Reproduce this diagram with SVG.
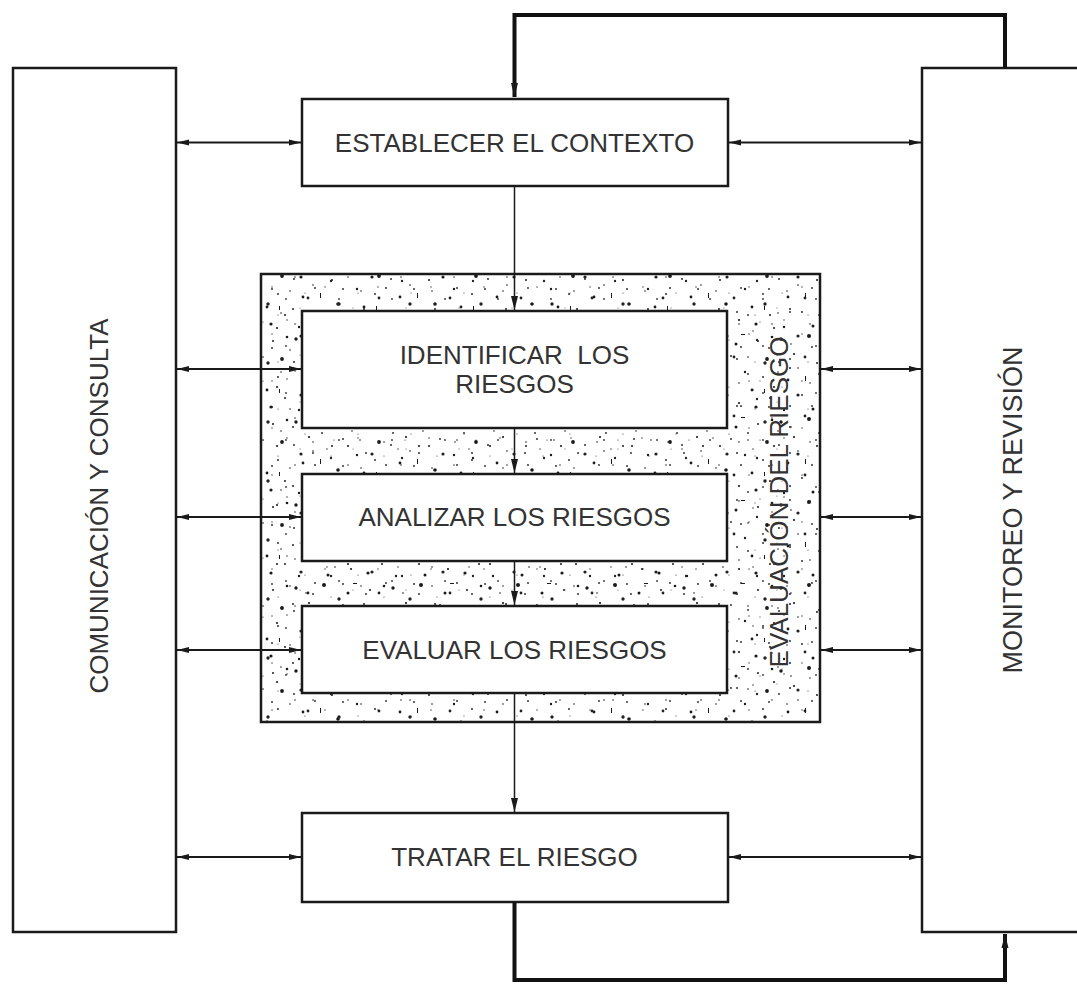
<svg xmlns="http://www.w3.org/2000/svg" width="1077" height="985" viewBox="0 0 1077 985">
<style>
.frame{fill:#fff;stroke:#1a1a1a;stroke-width:2.5}
.lbl{font-family:"Liberation Sans",Arial,sans-serif;font-size:26px;fill:#333;text-anchor:middle}
.conn{fill:none;stroke:#1a1a1a;stroke-width:2}
.thin{fill:none;stroke:#1a1a1a;stroke-width:1.5}
.thick{fill:none;stroke:#111;stroke-width:4}
</style>
<defs>
<marker id="ah" viewBox="0 0 12 7" refX="12" refY="3.5" markerWidth="12" markerHeight="7" markerUnits="userSpaceOnUse" orient="auto-start-reverse">
<path d="M0,0.5 L12,3.5 L0,6.5 z" fill="#1a1a1a"/>
</marker>
<marker id="av" viewBox="0 0 14 8" refX="14" refY="4" markerWidth="14" markerHeight="8" markerUnits="userSpaceOnUse" orient="auto">
<path d="M0,0.5 L14,4 L0,7.5 z" fill="#1a1a1a"/>
</marker>
<pattern id="sp1" width="97" height="83" patternUnits="userSpaceOnUse">
<g fill="#1a1a1a">
<circle cx="5" cy="7" r="1.7"/><circle cx="18" cy="22" r="1.1"/><circle cx="33" cy="4" r="2.0"/><circle cx="41" cy="31" r="1.0"/><circle cx="57" cy="12" r="1.5"/><circle cx="66" cy="40" r="1.2"/><circle cx="79" cy="9" r="1.0"/><circle cx="88" cy="27" r="1.9"/><circle cx="12" cy="48" r="1.4"/><circle cx="26" cy="63" r="0.9"/><circle cx="47" cy="55" r="1.8"/><circle cx="60" cy="71" r="1.1"/><circle cx="73" cy="58" r="1.4"/><circle cx="91" cy="66" r="1.0"/><circle cx="8" cy="78" r="1.2"/><circle cx="37" cy="77" r="1.5"/><circle cx="84" cy="45" r="0.9"/><circle cx="52" cy="24" r="0.9"/><circle cx="22" cy="36" r="0.8"/><circle cx="69" cy="25" r="0.8"/><circle cx="3" cy="30" r="0.9"/><circle cx="44" cy="69" r="0.8"/><circle cx="93" cy="5" r="1.3"/><circle cx="15" cy="12" r="0.8"/><circle cx="77" cy="75" r="1.6"/>
<rect x="29" y="44" width="1" height="5"/><rect x="62" y="2" width="4" height="1"/><rect x="85" y="57" width="1" height="4"/>
</g>
</pattern>
<pattern id="sp2" width="71" height="59" patternUnits="userSpaceOnUse">
<g fill="#222">
<circle cx="9" cy="14" r="1.0"/><circle cx="24" cy="3" r="1.4"/><circle cx="38" cy="20" r="0.9"/><circle cx="55" cy="9" r="1.7"/><circle cx="64" cy="33" r="1.1"/><circle cx="17" cy="41" r="1.6"/><circle cx="31" cy="52" r="0.9"/><circle cx="47" cy="45" r="1.2"/><circle cx="6" cy="55" r="0.8"/><circle cx="59" cy="53" r="0.9"/><circle cx="29" cy="29" r="0.8"/><circle cx="68" cy="18" r="0.8"/><circle cx="43" cy="36" r="0.7"/><circle cx="3" cy="25" r="0.7"/><circle cx="50" cy="27" r="0.6"/>
</g>
</pattern>
<pattern id="sp3" width="53" height="47" patternUnits="userSpaceOnUse">
<g fill="#333">
<circle cx="7" cy="5" r="0.7"/><circle cx="21" cy="17" r="0.9"/><circle cx="40" cy="11" r="0.6"/><circle cx="48" cy="30" r="1.0"/><circle cx="13" cy="33" r="0.6"/><circle cx="30" cy="42" r="0.8"/><circle cx="35" cy="26" r="0.5"/>
</g>
</pattern>
</defs>
<rect width="1077" height="985" fill="#fff"/>

<g id="evaluacion-riesgo">
<rect x="261" y="274" width="559" height="448" fill="#fff"/>
<rect x="261" y="274" width="559" height="448" fill="url(#sp1)"/>
<rect x="261" y="274" width="559" height="448" fill="url(#sp2)"/>
<rect x="261" y="274" width="559" height="448" fill="url(#sp3)"/>
<rect x="261" y="274" width="559" height="448" fill="none" stroke="#1a1a1a" stroke-width="2.5"/>
<text class="lbl" transform="translate(788,502) rotate(-90)">EVALUACIÓN DEL RIESGO</text>
</g>

<g id="comunicacion">
<rect class="frame" x="13" y="68" width="163" height="864"/>
<text class="lbl" transform="translate(108,506) rotate(-90)">COMUNICACIÓN Y CONSULTA</text>
</g>

<g id="monitoreo">
<rect class="frame" x="922" y="68" width="160" height="864"/>
<text class="lbl" style="font-size:27px" transform="translate(1022,510) rotate(-90)">MONITOREO Y REVISIÓN</text>
</g>

<g id="establecer">
<rect class="frame" x="302" y="99" width="426" height="87"/>
<text class="lbl" x="514.5" y="152">ESTABLECER EL CONTEXTO</text>
</g>

<g id="identificar">
<rect class="frame" x="302" y="311" width="425" height="117"/>
<text class="lbl" x="514.5" y="364" xml:space="preserve">IDENTIFICAR  LOS</text>
<text class="lbl" x="514.5" y="393">RIESGOS</text>
</g>

<g id="analizar">
<rect class="frame" x="302" y="474" width="425" height="87"/>
<text class="lbl" x="514.5" y="526">ANALIZAR LOS RIESGOS</text>
</g>

<g id="evaluar">
<rect class="frame" x="302" y="606" width="425" height="87"/>
<text class="lbl" x="514.5" y="659">EVALUAR LOS RIESGOS</text>
</g>

<g id="tratar">
<rect class="frame" x="302" y="813" width="426" height="89"/>
<text class="lbl" x="514.5" y="866">TRATAR EL RIESGO</text>
</g>

<g id="connectors">
<path class="thick" d="M1005,68 V15 H514.5 V97" marker-end="url(#av)"/>
<path class="thick" d="M514.5,902 V980 H1005 V934" marker-end="url(#av)"/>
<path class="thin" d="M514.5,186 V310" marker-end="url(#av)"/>
<path class="thin" d="M514.5,428 V473" marker-end="url(#av)"/>
<path class="thin" d="M514.5,561 V605" marker-end="url(#av)"/>
<path class="thin" d="M514.5,693 V812" marker-end="url(#av)"/>
<path class="conn" d="M177,142.5 H301" marker-start="url(#ah)" marker-end="url(#ah)"/>
<path class="conn" d="M177,369 H301" marker-start="url(#ah)" marker-end="url(#ah)"/>
<path class="conn" d="M177,517 H301" marker-start="url(#ah)" marker-end="url(#ah)"/>
<path class="conn" d="M177,650 H301" marker-start="url(#ah)" marker-end="url(#ah)"/>
<path class="conn" d="M177,857 H301" marker-start="url(#ah)" marker-end="url(#ah)"/>
<path class="conn" d="M729,142.5 H921" marker-start="url(#ah)" marker-end="url(#ah)"/>
<path class="conn" d="M821,369 H921" marker-start="url(#ah)" marker-end="url(#ah)"/>
<path class="conn" d="M821,517 H921" marker-start="url(#ah)" marker-end="url(#ah)"/>
<path class="conn" d="M821,650 H921" marker-start="url(#ah)" marker-end="url(#ah)"/>
<path class="conn" d="M729,857 H921" marker-start="url(#ah)" marker-end="url(#ah)"/>
</g>
</svg>
